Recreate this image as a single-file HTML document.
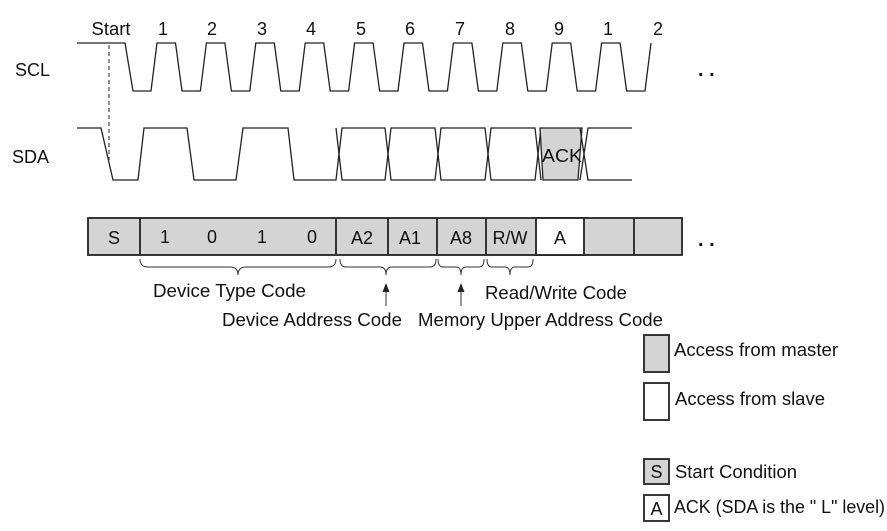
<!DOCTYPE html>
<html><head><meta charset="utf-8"><style>
body{margin:0;background:#fff;}
svg text{font-family:"Liberation Sans",Arial,sans-serif;font-size:18px;fill:#111;}
</style></head><body>
<svg width="887" height="526" viewBox="0 0 887 526" xmlns="http://www.w3.org/2000/svg">
<g fill="none" stroke="#222" stroke-width="1.3">
<path d="M77 43 H125 L133 91 H151 L157 43 H175.5 L182 91 H200.4 L206.4 43 H224.9 L231.4 91 H249.8 L255.8 43 H274.3 L280.8 91 H299.2 L305.2 43 H323.7 L330.2 91 H348.6 L354.6 43 H373.1 L379.6 91 H398 L404 43 H422.5 L429 91 H447.4 L453.4 43 H471.9 L478.4 91 H496.8 L502.8 43 H521.3 L527.8 91 H546.2 L552.2 43 H570.7 L577.2 91 H595.6 L601.6 43 H620.1 L626.6 91 H645 L651 43"/>
<path d="M77 128 H101 L113 180 H138 L144 128 H187 L194 180 H236 L243 128 H288 L294 180 H336 L342 128 H385 L391 180 H435 L441 128 H485 L491 180 H535 L541 128"/>
<path d="M336 128 L342 180 H385 L391 128 H435 L441 180 H485 L491 128 H535 L541 180"/>
<polygon points="540,128 582,128 578,180 543,180" fill="#d4d4d4"/>
<path d="M580 128 L588 180 H632 M580 180 L588 128 H632"/>
<path d="M109 45 V160" stroke-dasharray="4,3" stroke-width="1"/>
</g>
<text x="111" y="35" text-anchor="middle" textLength="39" lengthAdjust="spacingAndGlyphs">Start</text>
<g text-anchor="middle">
<text x="163" y="35">1</text><text x="212" y="35">2</text><text x="262" y="35">3</text><text x="311" y="35">4</text><text x="361" y="35">5</text><text x="410" y="35">6</text><text x="460" y="35">7</text><text x="510" y="35">8</text><text x="559" y="35">9</text><text x="608" y="35">1</text><text x="658" y="35">2</text>
<text x="562" y="162" textLength="40" lengthAdjust="spacingAndGlyphs">ACK</text>
</g>
<text x="15" y="76">SCL</text>
<text x="12" y="163">SDA</text>
<text x="698" y="76" style="font-size:20px;font-weight:bold">. .</text>
<text x="698" y="246" style="font-size:20px;font-weight:bold">. .</text>
<g stroke="#222" stroke-width="1.8">
<rect x="88" y="218" width="594" height="37" fill="#d4d4d4"/>
<rect x="536" y="218" width="48" height="37" fill="#fff"/>
<path d="M140 218V255M336 218V255M388 218V255M437 218V255M486 218V255M634 218V255" fill="none"/>
</g>
<g text-anchor="middle">
<text x="114" y="244">S</text><text x="165" y="243">1</text><text x="212" y="243">0</text><text x="262" y="243">1</text><text x="312" y="243">0</text><text x="362" y="244">A2</text><text x="410" y="244">A1</text><text x="461" y="244">A8</text><text x="510" y="244">R/W</text><text x="560" y="244">A</text>
</g>
<g fill="none" stroke="#333" stroke-width="1">
<path d="M140 259 q0 8 8 8 H230 q8 0 8 8 q0 -8 8 -8 H328 q8 0 8 -8"/>
<path d="M340 259 q0 8 6 8 H380 q6 0 6 8 q0 -8 6 -8 H430 q6 0 6 -8"/>
<path d="M438 259 q0 8 5 8 H456 q5 0 5 8 q0 -8 5 -8 H479 q5 0 5 -8"/>
<path d="M487 259 q0 8 5 8 H505 q5 0 5 8 q0 -8 5 -8 H528 q5 0 5 -8"/>
<path d="M386 306 V290 M461 306 V290"/>
</g>
<polygon points="386,283 382.5,292 389.5,292" fill="#222"/>
<polygon points="461,283 457.5,292 464.5,292" fill="#222"/>
<text x="153" y="297" textLength="153" lengthAdjust="spacingAndGlyphs">Device Type Code</text>
<text x="485" y="299" textLength="142" lengthAdjust="spacingAndGlyphs">Read/Write Code</text>
<text x="222" y="326" textLength="180" lengthAdjust="spacingAndGlyphs">Device Address Code</text>
<text x="418" y="326" textLength="245" lengthAdjust="spacingAndGlyphs">Memory Upper Address Code</text>
<g stroke="#222" stroke-width="1.8">
<rect x="644" y="335" width="25" height="37" fill="#d4d4d4"/>
<rect x="644" y="383" width="25" height="37" fill="#fff"/>
<rect x="644" y="459" width="25" height="25" fill="#d4d4d4"/>
<rect x="644" y="495" width="25" height="26" fill="#fff"/>
</g>
<text x="674" y="356" textLength="164" lengthAdjust="spacingAndGlyphs">Access from master</text>
<text x="675" y="405" textLength="150" lengthAdjust="spacingAndGlyphs">Access from slave</text>
<text x="656.5" y="478" text-anchor="middle">S</text>
<text x="675" y="478" textLength="122" lengthAdjust="spacingAndGlyphs">Start Condition</text>
<text x="656.5" y="515" text-anchor="middle">A</text>
<text x="674" y="513" textLength="211" lengthAdjust="spacingAndGlyphs">ACK (SDA is the " L" level)</text>
</svg>
</body></html>
